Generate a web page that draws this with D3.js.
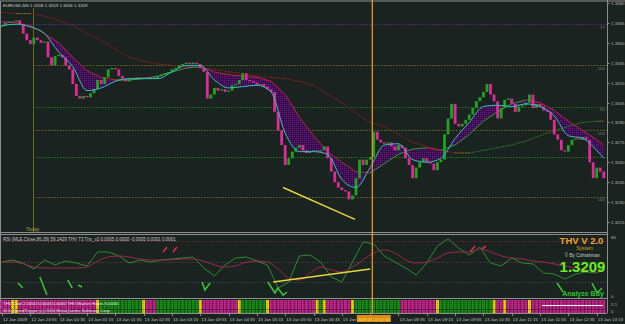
<!DOCTYPE html>
<html><head><meta charset="utf-8">
<script src="https://cdn.jsdelivr.net/npm/d3@7"></script>
<style>html,body{margin:0;padding:0;background:#18221f;overflow:hidden}svg{display:block}text{font-family:"Liberation Sans",Arial,sans-serif}</style>
</head><body><svg id="c" width="625" height="324"></svg>
<script>
// ---------------- DATA ----------------
const closes = [
1.3363,1.3365,1.3366,1.3366,1.3367,1.3364,1.3357,1.3352,1.3349,1.3354,
1.3352,1.3350,1.3351,1.3339,1.3333,1.3340,1.3341,1.3339,1.3333,1.3330,
1.3319,1.3310,1.3308,1.3310,1.3309,1.3312,1.3315,1.3322,1.3319,1.3324,
1.3330,1.3331,1.3330,1.3325,1.3323,1.3321,1.3323,1.3322,1.3324,1.3323,
1.3324,1.3323,1.3324,1.3323,1.3325,1.3326,1.3327,1.3328,1.3330,1.3331,
1.3333,1.3334,1.3335,1.3334,1.3335,1.3334,1.3331,1.3328,1.3308,1.3311,
1.3316,1.3314,1.3315,1.3313,1.3314,1.3318,1.3319,1.3322,1.3327,1.3322,
1.3321,1.3320,1.3318,1.3319,1.3317,1.3315,1.3313,1.3298,1.3284,1.3273,
1.3258,1.3263,1.3268,1.3271,1.3273,1.3269,1.3267,1.3268,1.3269,1.3268,
1.3269,1.3272,1.3263,1.3253,1.3245,1.3241,1.3239,1.3238,1.3232,1.3235,
1.3248,1.3262,1.3258,1.3262,1.3264,1.3283,1.3277,1.3275,1.3274,1.3275,
1.3272,1.3269,1.3273,1.3271,1.3263,1.3258,1.3248,1.3256,1.3260,1.3263,
1.3260,1.3259,1.3254,1.3260,1.3262,1.3281,1.3293,1.3304,1.3289,1.3287,
1.3289,1.3292,1.3296,1.3301,1.3306,1.3309,1.3313,1.3319,1.3311,1.3306,
1.3293,1.3301,1.3307,1.3308,1.3304,1.3298,1.3302,1.3303,1.3305,1.3311,
1.3301,1.3304,1.3302,1.3299,1.3298,1.3292,1.3281,1.3277,1.3269,1.3268,
1.3273,1.3277,1.3278,1.3277,1.3279,1.3277,1.3260,1.3248,1.3256,1.3253,
1.3248];
const firstOpen = 1.3362;

const maIdx = [0,4,8,12,16,20,24,28,32,36,40,44,48,52,56,60,64,68,72,76,80,84,88,92,96,100,104,108,112,116,120,124,128,132,136,140,144,148,152,156,160,164,168,170];
const fastMA = [1.3363,1.3364,1.3362,1.3357,1.3343,1.3332,1.3314,1.3316,1.3321,1.3323,
 1.3323,1.3323,1.3328,1.3333,1.3333,1.3322,1.3316,1.3317,1.3318,1.3313,
 1.3282,1.3268,1.3268,1.3266,1.3247,1.3241,1.3256,1.3273,1.3274,1.3262,
 1.3260,1.3263,1.3278,1.3290,1.3302,1.3303,1.3302,1.3304,1.3302,1.3295,
 1.3280,1.3278,1.3269,1.3263];
const midMA = [1.3366,1.3365,1.3363,1.3357,1.3350,1.3339,1.3329,1.3324,1.3322,1.3322,
 1.3323,1.3325,1.3328,1.3331,1.3332,1.3328,1.3326,1.3325,1.3324,1.3321,
 1.3311,1.3294,1.3280,1.3268,1.3260,1.3253,1.3252,1.3259,1.3266,1.3270,
 1.3271,1.3269,1.3273,1.3281,1.3291,1.3298,1.3304,1.3307,1.3305,1.3299,
 1.3291,1.3284,1.3277,1.3273];
const slowMA = [1.3373,1.3372,1.3372,1.3370,1.3367,1.3363,1.3357,1.3352,1.3345,1.3339,
 1.3336,1.3334,1.3333,1.3332,1.3331,1.3330,1.3328,1.3327,1.3325,1.3324,
 1.3323,1.3321,1.3318,1.3311,1.3305,1.3297,1.3290,1.3287,1.3281,1.3275,
 1.3272,1.3269,1.3267,1.3267,1.3269,1.3271,1.3273,1.3276,1.3280,1.3284,
 1.3287,1.3290,1.3291,1.3291];

const priceTicks = [1.3380,1.3365,1.3350,1.3335,1.3320,1.3305,1.3290,1.3275,1.3260,1.3245,1.3230,1.3215];
const levelPrices = [1.3364,1.3333,1.3302,1.3284,1.3264,1.3234];
const levelLabels = ["77","100","50","100","","100"];
const mainTrend = [[79.4,1.3241],[99.7,1.3217]];

const rsiIdx = [0,3,6,9,12,15,18,21,24,27,30,33,36,39,42,45,48,51,54,57,60,63,66,69,72,75,78,81,84,87,90,93,96,99,102,105,108,111,114,117,120,123,126,129,132,135,138,141,144,147,150,153,156,159,162,165,168,170];
const rsiMain = [49.5,51.5,48.5,42.7,51.5,46.6,50.5,48.5,45.6,59.3,
 59.3,55.4,48.5,51.5,49.5,51.5,52.4,53.4,54.4,43.7,
 35.9,46.6,53.4,54.4,50.5,46.6,24.1,30.0,55.4,56.3,
 49.5,34.9,30.0,49.5,69.0,67.1,55.4,49.5,43.7,36.8,
 48.5,65.1,72.0,63.2,56.3,64.1,48.5,45.6,53.4,48.5,
 47.6,38.8,37.8,32.9,37.8,39.8,38.8,43.7];
const rsiSignal = [49.5,49.5,47.6,44.6,43.7,43.7,43.7,43.7,44.6,50.5,
 54.4,55.4,54.4,52.4,51.5,51.5,51.5,52.4,52.4,50.5,
 46.6,44.6,45.6,49.5,50.5,49.5,42.7,33.9,31.9,38.8,
 44.6,41.7,39.8,44.6,51.5,58.3,61.2,58.3,51.5,48.5,
 49.5,53.4,58.3,59.3,59.3,62.2,59.3,55.4,53.4,52.4,
 50.5,49.5,47.6,45.6,43.7,41.7,39.8,40.7];
const rsiLevels = [70,50,30];
const rsiTrend = [[76.6,30.0],[104,42.7]];
const buyMarks = [
 [[4.5,29.0],[5.9,24.1]], [[10.7,34.9],[12.7,17.3]], [[18.6,32.0],[19.8,24.1]], [[21.5,27.1],[22.6,25.1]],
 [[56.5,30.0],[57.3,22.2],[58.8,29.0]],
 [[75.1,30.0],[77.1,19.3],[77.9,24.1],[79.4,17.3],[80.5,20.2]],
 [[156.8,29.0],[158.5,20.2]], [[166.7,29.0],[168.1,19.3],[169.5,24.1]]];
const sellMarks = [
 [[45.5,59.3],[46.6,64.1]], [[48.3,59.3],[49.4,64.1]], [[132.2,59.3],[133.6,65.1]], [[135.6,62.2],[136.7,65.1]]];

const barStates = [["m",3],["y",2],["m",22],["y",1],["g",12],["y",1],["m",3],["g",12],["y",1],["m",10],["y",1],["g",7],["y",1],["m",13],["y",1],["g",1],["y",1],["m",7],["y",1],["g",13],["m",10],["y",1],["g",15],["y",1],["m",2],["y",1],["m",6],["y",1],["m",21]];

const timeLabels = ["12 Jan 2009","12 Jan 23:55","13 Jan 00:35","13 Jan 01:15","13 Jan 01:55","13 Jan 02:35","13 Jan 03:15","13 Jan 03:55","13 Jan 04:35","13 Jan 05:15","13 Jan 05:55","13 Jan 06:35","13 Jan 07:15","13 Jan 07:55","13 Jan 08:35","13 Jan 09:15","13 Jan 09:55","13 Jan 10:35","13 Jan 11:15","13 Jan 11:55","13 Jan 12:35","13 Jan 13:15"];
const timeLabelEvery = 8;
const cursorBar = 104.6;
const cursorLabel = "2009.01.13 07:55";

// ---------------- DRAW ----------------
const W=625,H=324,AX=607;
const svg=d3.select("#c");
const defs=svg.append("defs");
const bp=defs.append("pattern").attr("id","bg").attr("width",4).attr("height",4).attr("patternUnits","userSpaceOnUse");
bp.append("rect").attr("width",4).attr("height",4).attr("fill","#18221f");
bp.append("rect").attr("x",1).attr("y",1).attr("width",1).attr("height",1).attr("fill","#27302d");
bp.append("rect").attr("x",3).attr("y",3).attr("width",1).attr("height",1).attr("fill","#2a2225");
const pp=defs.append("pattern").attr("id","purp").attr("width",2).attr("height",2).attr("patternUnits","userSpaceOnUse");
pp.append("rect").attr("width",2).attr("height",2).attr("fill","#380c4a");
pp.append("rect").attr("width",1).attr("height",1).attr("fill","#6e1e8a");
const sp=defs.append("pattern").attr("id","mdots").attr("width",2).attr("height",2).attr("patternUnits","userSpaceOnUse");
sp.append("rect").attr("width",2).attr("height",2).attr("fill","none");
sp.append("rect").attr("x",1).attr("y",1).attr("width",1).attr("height",1).attr("fill","#000").attr("fill-opacity",0.25);
defs.append("clipPath").attr("id","cm").append("rect").attr("x",1).attr("y",2).attr("width",AX-1).attr("height",230);
defs.append("clipPath").attr("id","cr").append("rect").attr("x",1).attr("y",235).attr("width",AX-1).attr("height",63);

svg.append("rect").attr("width",W).attr("height",H).attr("fill","url(#bg)");

const x=d3.scaleLinear().domain([0,closes.length-1]).range([2,603.8]);
const step=x(1)-x(0);
const yP=d3.scaleLinear().domain([1.3215,1.3380]).range([222,3]);
const yR=d3.scaleLinear().domain([30,70]).range([282,241]);

const gray="#8e8e8e";
[[0,1,W,1],[0.5,1,0.5,313],[0,232.5,AX,232.5],[0,234.5,AX,234.5],[0,298.5,AX,298.5],[0,313.5,AX,313.5]].forEach(l=>
 svg.append("line").attr("x1",l[0]).attr("y1",l[1]).attr("x2",l[2]).attr("y2",l[3]).attr("stroke",gray).attr("stroke-width",1));
svg.append("line").attr("x1",AX+0.5).attr("x2",AX+0.5).attr("y1",0).attr("y2",313).attr("stroke",gray);

const gm=svg.append("g").attr("clip-path","url(#cm)");
const levelColors=["#5b2a8e","#6c6a22","#1f7d1f","#6c6a22","#1f7d1f","#6c6a22"];
levelPrices.forEach((p,k)=>{
  gm.append("line").attr("x1",k===0?0:33).attr("x2",AX).attr("y1",Math.round(yP(p))+0.5).attr("y2",Math.round(yP(p))+0.5)
   .attr("stroke",levelColors[k]).attr("stroke-dasharray","1.5,1.5").attr("stroke-width",1);
  if(levelLabels[k]) svg.append("text").attr("x",605).attr("y",yP(p)+4.5).attr("text-anchor","end").attr("font-size",4.4).attr("fill","#7c7c90").text(levelLabels[k]);
});
gm.append("line").attr("x1",33.5).attr("x2",33.5).attr("y1",8).attr("y2",232).attr("stroke","#6c6a22");

const ma=maIdx.map((i,k)=>({i,f:fastMA[k],m:midMA[k],s:slowMA[k]}));
gm.append("path").datum(ma).attr("fill","url(#purp)").attr("opacity",0.95)
 .attr("d",d3.area().x(d=>x(d.i)).y0(d=>yP(d.m)).y1(d=>yP(d.f)).curve(d3.curveMonotoneX));

function segLine(key,up,down,dash,w){
  for(let k=1;k<ma.length;k++){
    const a=ma[k-1],b=ma[k];
    gm.append("line").attr("x1",x(a.i)).attr("y1",yP(a[key])).attr("x2",x(b.i)).attr("y2",yP(b[key]))
      .attr("stroke",b[key]>a[key]?up:(b[key]<a[key]?down:"#a08a20")).attr("stroke-width",w).attr("stroke-dasharray",dash);
  }
}
segLine("s","#2a8a2a","#9c2020","1.5,1",1);
segLine("m","#2ea02e","#b8283a",null,1);

const candles=closes.map((c,i)=>({i,o:i?closes[i-1]:firstOpen,c}));
gm.selectAll("rect.cd").data(candles).enter().append("rect")
 .attr("x",d=>x(d.i)-1.4).attr("width",2.8)
 .attr("y",d=>yP(Math.max(d.o,d.c)))
 .attr("height",d=>Math.max(1,Math.abs(yP(d.o)-yP(d.c))))
 .attr("fill",d=>d.c>d.o?"#20a420":(d.c<d.o?"#e02a9a":"#7a7a7a"));

gm.append("path").datum(ma).attr("fill","none").attr("stroke","#34c0c4").attr("stroke-width",1)
 .attr("d",d3.line().x(d=>x(d.i)).y(d=>yP(d.f)).curve(d3.curveMonotoneX));

gm.append("line").attr("x1",x(mainTrend[0][0])).attr("y1",yP(mainTrend[0][1])).attr("x2",x(mainTrend[1][0])).attr("y2",yP(mainTrend[1][1]))
 .attr("stroke","#e6d63c").attr("stroke-width",1.4);

svg.append("text").attr("x",3).attr("y",6.5).attr("font-size",4.4).attr("fill","#d0d0d0").text("EURUSD,M5  1.3208 1.3209 1.3206 1.3209");
svg.append("text").attr("x",26).attr("y",231).attr("font-size",5).attr("fill","#a8a040").text("Today");

priceTicks.forEach(t=>{
  const yy=Math.round(yP(t))+0.5;
  svg.append("line").attr("x1",AX).attr("x2",AX+2.5).attr("y1",yy).attr("y2",yy).attr("stroke",gray);
  svg.append("text").attr("x",611).attr("y",yy+1.6).attr("font-size",4.4).attr("fill","#b8b8b8").text(t.toFixed(4));
});

const gr=svg.append("g").attr("clip-path","url(#cr)");
const rlc=["#702434","#4a3a3c","#3c4644"];
rsiLevels.forEach((v,k)=>gr.append("line").attr("x1",0).attr("x2",AX).attr("y1",Math.round(yR(v))+0.5).attr("y2",Math.round(yR(v))+0.5)
  .attr("stroke",rlc[k]).attr("stroke-dasharray","1.5,1.5"));
const rd=rsiIdx.map((i,k)=>({i,a:rsiMain[k],b:rsiSignal[k]}));
gr.append("path").datum(rd).attr("fill","none").attr("stroke","#2c8c2c").attr("stroke-width",1)
 .attr("d",d3.line().x(d=>x(d.i)).y(d=>yR(d.a)));
gr.append("path").datum(rd).attr("fill","none").attr("stroke","#a0284a").attr("stroke-width",1)
 .attr("d",d3.line().x(d=>x(d.i)).y(d=>yR(d.b)).curve(d3.curveMonotoneX));
gr.append("line").attr("x1",x(rsiTrend[0][0])).attr("y1",yR(rsiTrend[0][1])).attr("x2",x(rsiTrend[1][0])).attr("y2",yR(rsiTrend[1][1]))
 .attr("stroke","#e6d63c").attr("stroke-width",1.4);
const ml=d3.line().x(d=>x(d[0])).y(d=>yR(d[1]));
buyMarks.forEach(m=>gr.append("path").attr("d",ml(m)).attr("fill","none").attr("stroke","#3cc03c").attr("stroke-width",1.6));
sellMarks.forEach(m=>gr.append("path").attr("d",ml(m)).attr("fill","none").attr("stroke","#d83040").attr("stroke-width",1.6));

svg.append("text").attr("x",3).attr("y",241).attr("font-size",4.5).attr("fill","#c8c8c8").text("RSI (MLE,Close,86,28) 59.2429");
svg.append("text").attr("x",68).attr("y",241).attr("font-size",4.5).attr("fill","#c8c8c8").text("THV T3 Trix_v2  0.0005 0.0000 -0.0005 0.0001 0.0001");
svg.append("text").attr("x",581.5).attr("y",244).attr("text-anchor","middle").attr("font-size",9.5).attr("font-weight","bold").attr("fill","#f0a028").text("THV V 2.0");
svg.append("text").attr("x",584.5).attr("y",249.5).attr("text-anchor","middle").attr("font-size",5).attr("fill","#d8a020").text("System");
svg.append("text").attr("x",582.5).attr("y",257).attr("text-anchor","middle").attr("font-size",4.6).attr("fill","#c8c8c8").text("© By Cohrahman");
svg.append("text").attr("x",582.5).attr("y",272).attr("text-anchor","middle").attr("font-size",15).attr("font-weight","bold").attr("fill","#66ee22").text("1.3209");
svg.append("text").attr("x",583).attr("y",295.5).attr("text-anchor","middle").attr("font-size",7).attr("font-weight","bold").attr("fill","#2ec02e").text("Analyze Buy");
svg.append("text").attr("x",611).attr("y",239).attr("font-size",4.4).attr("fill","#b8b8b8").text("80");
svg.append("text").attr("x",611).attr("y",297.5).attr("font-size",4.4).attr("fill","#b8b8b8").text("0");

const stateColor={m:"#c8228e",g:"#168e16",y:"#f0d400"};
const states=[];barStates.forEach(([s,n])=>{for(let k=0;k<n;k++)states.push(s);});
svg.selectAll("rect.st").data(states).enter().append("rect")
 .attr("x",(d,i)=>x(i)-step/2+0.3).attr("width",step-0.5).attr("y",300).attr("height",13)
 .attr("fill",d=>stateColor[d]);
svg.append("rect").attr("x",0).attr("y",300).attr("width",AX).attr("height",13).attr("fill","url(#mdots)");
svg.append("line").attr("x1",0).attr("x2",AX).attr("y1",309.5).attr("y2",309.5).attr("stroke","#000").attr("stroke-opacity",0.35);
svg.append("line").attr("x1",542).attr("x2",603).attr("y1",305.5).attr("y2",305.5).attr("stroke","#f0f0f0").attr("stroke-width",1);
svg.append("text").attr("x",3).attr("y",305).attr("font-size",4.4).attr("fill","#f0f0f0").text("THV Cool 2.0000 0.0000 0.0000   THV Market Hours 6.0000");
svg.append("text").attr("x",3).attr("y",311.5).attr("font-size",4.4).attr("fill","#e0e0e0").text("SOL TrendTrigger (c) 2006 MetaQuotes Software Corp.");
svg.append("text").attr("x",611).attr("y",305.5).attr("font-size",4.4).attr("fill","#b8b8b8").text("2.1");
svg.append("text").attr("x",611).attr("y",312.5).attr("font-size",4.4).attr("fill","#b8b8b8").text("0");

const cx=x(cursorBar);
const boxL=cx-15.5, boxW=34;
timeLabels.forEach((t,k)=>{
  const bx=x(k*timeLabelEvery);
  svg.append("line").attr("x1",Math.round(bx)+0.5).attr("x2",Math.round(bx)+0.5).attr("y1",313).attr("y2",316).attr("stroke",gray);
  if(Math.abs(bx-cx)>12){
    const near = bx<cx && bx+27>boxL;
    svg.append("text").attr("x",bx+1).attr("y",320.5).attr("font-size",4.4).attr("fill","#c0c0c0")
      .text(near? t.slice(0,6) : t);
  }
});
svg.append("line").attr("x1",cx).attr("x2",cx).attr("y1",0).attr("y2",314).attr("stroke","#f0a030").attr("stroke-width",1.2);
svg.append("rect").attr("x",boxL).attr("y",315).attr("width",boxW).attr("height",7).attr("fill","#d88c14");
svg.append("text").attr("x",boxL+boxW/2).attr("y",320.5).attr("text-anchor","middle").attr("font-size",4.2).attr("fill","#ffe878").text(cursorLabel);
</script></body></html>
